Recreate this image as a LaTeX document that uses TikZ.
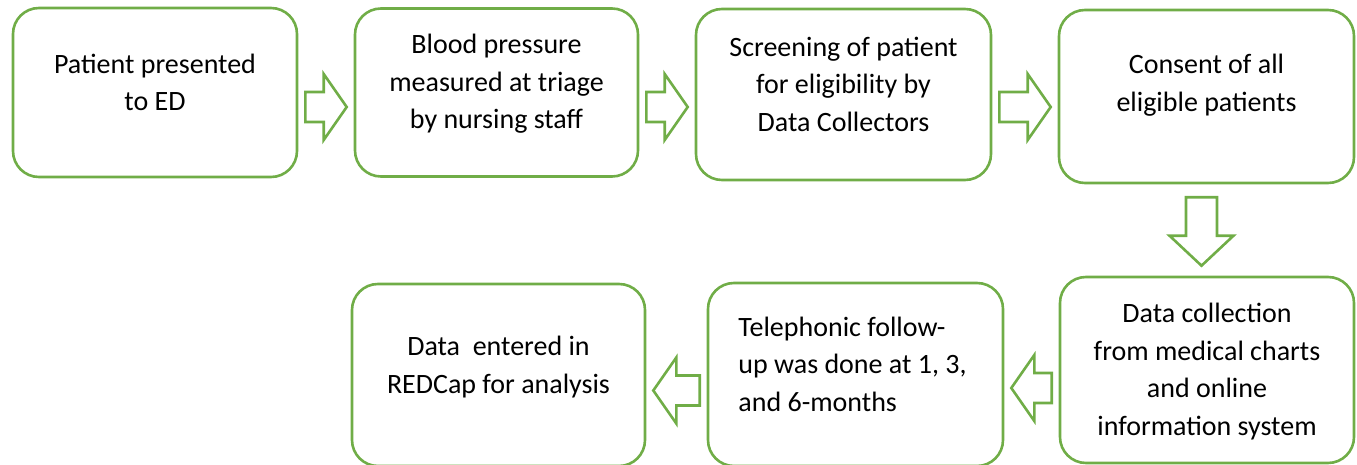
\documentclass[tikz,border=0pt]{standalone}
\usepackage{fontspec}
\setmainfont{Carlito}
\usetikzlibrary{calc}
\definecolor{flowgreen}{RGB}{112,173,71}
\tikzset{
  stage/.style={draw=flowgreen, line width=2.6pt, rounded corners=26pt},
  stagetext/.style={align=center, font=\fontsize{28}{37.5}\selectfont},
  flowarrow/.style={draw=flowgreen, line width=2.6pt, line join=miter}
}
% hollow block arrows between two boxes
\newcommand{\flowright}[3]{%
  \draw[flowarrow] let \p1=(#1.east), \p2=(#2.west) in
    (\x1+7pt,\y1-#3+15pt) -- (\x2-30pt,\y1-#3+15pt) -- (\x2-30pt,\y1-#3+33pt)
    -- (\x2-7pt,\y1-#3) -- (\x2-30pt,\y1-#3-33pt) -- (\x2-30pt,\y1-#3-15pt)
    -- (\x1+7pt,\y1-#3-15pt) -- cycle;}
\newcommand{\flowleft}[3]{%
  \draw[flowarrow] let \p1=(#1.west), \p2=(#2.east) in
    (\x1-7pt,\y1-#3+15pt) -- (\x2+30pt,\y1-#3+15pt) -- (\x2+30pt,\y1-#3+33pt)
    -- (\x2+7pt,\y1-#3) -- (\x2+30pt,\y1-#3-33pt) -- (\x2+30pt,\y1-#3-15pt)
    -- (\x1-7pt,\y1-#3-15pt) -- cycle;}
\newcommand{\flowdown}[2]{%
  \draw[flowarrow] let \p1=(#1.south), \p2=(#2.north) in
    (\x1-20.5pt,\y1-13pt) -- (\x1-20.5pt,\y2+40pt) -- (\x1-37pt,\y2+40pt)
    -- (\x1-5pt,\y2+10pt) -- (\x1+27pt,\y2+40pt) -- (\x1+10.5pt,\y2+40pt)
    -- (\x1+10.5pt,\y1-13pt) -- cycle;}
\begin{document}
\begin{tikzpicture}[x=1pt,y=-1pt]
\useasboundingbox (0,0) rectangle (1357,465);

% top row
\node[stage, minimum width=284pt, minimum height=169pt] (patient) at (155,92.5) {};
\node[stagetext] (patientlbl) at (155,82.5) {Patient presented\\to ED};
\node[stage, minimum width=283pt, minimum height=168pt] (triage) at (496.5,92.5) {};
\node[stagetext] (triagelbl) at (496.5,84) {Blood pressure\\measured at triage\\by nursing staff};
\node[stage, minimum width=295pt, minimum height=171pt] (screening) at (843.5,94.5) {};
\node[stagetext] (screeninglbl) at (843.5,84) {Screening of patient\\for eligibility by\\Data Collectors};
\node[stage, minimum width=295pt, minimum height=173pt] (consent) at (1206.5,96.5) {};
\node[stagetext] (consentlbl) at (1206.5,85) {Consent of all\\eligible patients};

% bottom row
\node[stage, minimum width=294pt, minimum height=186pt] (collection) at (1207,370) {};
\node[stagetext] (collectionlbl) at (1207,371.5) {Data collection\\from medical charts\\and online\\information system};
\node[stage, minimum width=295pt, minimum height=183pt] (followup) at (855.5,374.5) {};
\node[stagetext, align=left] (followuplbl) at (852.5,364) {Telephonic follow-\\up was done at 1, 3,\\and 6-months};
\node[stage, minimum width=293pt, minimum height=182pt] (entry) at (498.5,375) {};
\node[stagetext] (entrylbl) at (498.5,367) {Data\ \ entered in\\REDCap for analysis};

% arrows
\flowright{patient}{triage}{14.5pt}
\flowright{triage}{screening}{14.5pt}
\flowright{screening}{consent}{12.5pt}
\flowdown{consent}{collection}
\flowleft{collection}{followup}{18pt}
\flowleft{followup}{entry}{16pt}
\end{tikzpicture}
\end{document}
